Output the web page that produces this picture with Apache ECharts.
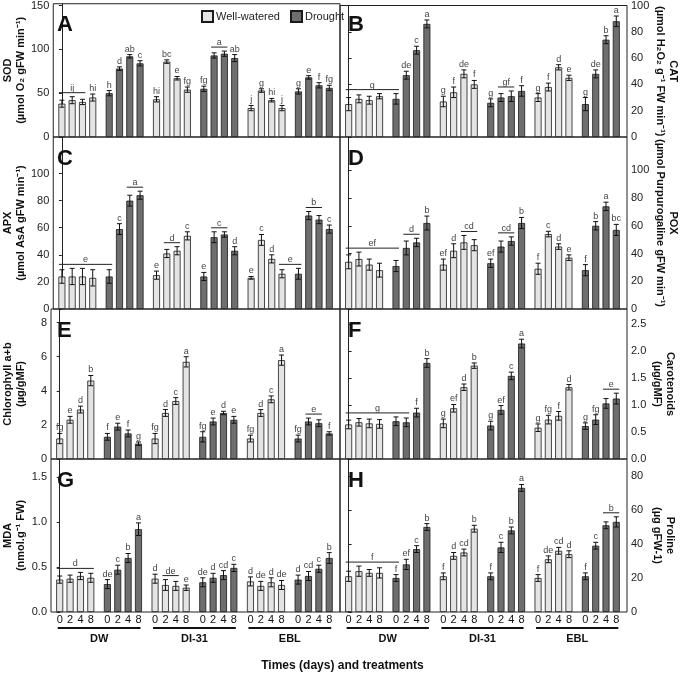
<!DOCTYPE html>
<html>
<head>
<meta charset="utf-8">
<script src="https://cdn.jsdelivr.net/npm/echarts@6/dist/echarts.min.js"></script>
<style>
  html, body { margin: 0; padding: 0; background: #fff; }
  #main { width: 685px; height: 677px; }
</style>
</head>
<body>
<div id="main"></div>
<script>
// bar order: WW-DW, Drought-DW, WW-DI31, Drought-DI31, WW-EBL, Drought-EBL (days 0,2,4,8 each)
const days = ['0', '2', '4', '8'];
const treatments = ['DW', 'DI-31', 'EBL'];

const sodValues = [38, 42, 40, 45, 50, 78, 92, 84, 43, 86, 67, 54, 55, 93, 95, 90, 33, 53, 42, 33, 52, 68, 59, 56];
const sodErr = [4, 4, 3, 4, 3, 2, 2, 3, 3, 2, 2, 3, 3, 3, 3, 4, 3, 2, 2, 3, 3, 2, 3, 3];
const sodLetters = ['', '', '', 'hi', 'h', 'd', 'ab', 'c', 'hi', 'bc', 'e', 'fg', 'fg', '', '', 'ab', 'j', 'g', 'hi', 'j', 'g', 'e', 'f', 'fg'];
const sodSpans = [[0, 2, 'ij'], [13, 14, 'a']];
const sodTicks = [0, 50, 100, 150];

const catValues = [25, 29, 28, 31, 29, 47, 66, 86, 27, 34, 48, 40, 26, 30, 31, 35, 30, 38, 53, 45, 25, 48, 74, 88];
const catErr = [5, 3, 3, 2, 4, 3, 3, 3, 4, 4, 3, 3, 3, 3, 4, 4, 3, 3, 2, 2, 5, 3, 3, 4];
const catLetters = ['', '', '', '', '', 'de', 'c', 'a', 'g', 'f', 'de', 'f', 'g', '', '', 'f', 'g', 'f', 'd', 'e', 'g', 'de', 'b', 'a'];
const catSpans = [[0, 4, 'g'], [13, 14, 'gf']];
const catTicks = [0, 20, 40, 60, 80, 100];

const apxValues = [24, 24, 24, 23, 24, 59, 80, 84, 25, 41, 43, 54, 24, 53, 55, 43, 23, 51, 37, 26, 26, 69, 66, 59];
const apxErr = [5, 6, 6, 6, 5, 4, 4, 3, 3, 3, 3, 3, 3, 4, 2, 3, 1, 4, 3, 3, 4, 3, 3, 3];
const apxLetters = ['', '', '', '', '', 'c', '', '', 'e', '', '', 'c', 'e', '', '', 'd', 'e', 'c', 'd', '', '', '', '', 'c'];
const apxSpans = [[0, 4, 'e'], [6, 7, 'a'], [9, 10, 'd'], [13, 14, 'c'], [19, 20, 'e'], [21, 22, 'b']];
const apxTicks = [0, 20, 40, 60, 80, 100];

const poxValues = [34, 36, 32, 28, 31, 44, 48, 62, 32, 42, 48, 46, 33, 45, 49, 62, 29, 54, 45, 37, 28, 60, 74, 57];
const poxErr = [5, 5, 4, 5, 4, 5, 3, 5, 4, 5, 5, 4, 3, 4, 3, 4, 4, 2, 2, 2, 4, 3, 3, 4];
const poxLetters = ['', '', '', '', '', '', '', 'b', 'ef', 'd', '', '', 'ef', '', '', 'b', 'f', 'c', 'd', 'e', 'f', 'b', 'a', 'bc'];
const poxSpans = [[0, 4, 'ef'], [5, 6, 'd'], [10, 11, 'cd'], [13, 14, 'cd']];
const poxTicks = [0, 20, 40, 60, 80, 100];

const chlValues = [1.2, 2.3, 2.9, 4.6, 1.3, 1.9, 1.5, 0.9, 1.2, 2.7, 3.4, 5.7, 1.3, 2.2, 2.7, 2.3, 1.2, 2.7, 3.5, 5.8, 1.2, 2.2, 2.1, 1.5];
const chlErr = [0.3, 0.2, 0.2, 0.3, 0.2, 0.2, 0.2, 0.1, 0.3, 0.2, 0.2, 0.3, 0.3, 0.2, 0.1, 0.2, 0.2, 0.2, 0.2, 0.3, 0.2, 0.2, 0.2, 0.1];
const chlLetters = ['fg', 'e', 'd', 'b', 'f', 'e', 'f', 'g', 'fg', 'd', 'c', 'a', 'fg', 'e', 'd', 'e', 'fg', 'd', 'c', 'a', 'fg', '', '', 'f'];
const chlSpans = [[21, 22, 'e']];
const chlTicks = [0, 2, 4, 6, 8];

const carValues = [0.64, 0.68, 0.66, 0.65, 0.70, 0.68, 0.86, 1.78, 0.66, 0.94, 1.33, 1.73, 0.62, 0.91, 1.54, 2.14, 0.58, 0.73, 0.80, 1.33, 0.61, 0.73, 1.03, 1.12];
const carErr = [0.08, 0.07, 0.08, 0.08, 0.08, 0.08, 0.08, 0.08, 0.08, 0.07, 0.06, 0.05, 0.08, 0.08, 0.07, 0.08, 0.07, 0.08, 0.08, 0.05, 0.06, 0.09, 0.09, 0.1];
const carLetters = ['', '', '', '', '', '', 'f', 'b', 'g', 'ef', 'd', 'b', 'g', 'ef', 'c', 'a', 'g', 'fg', 'f', 'd', 'g', 'fg', '', ''];
const carSpans = [[0, 5, 'g'], [22, 23, 'e']];
const carTicks = [0, 0.5, 1, 1.5, 2, 2.5];

const mdaValues = [0.36, 0.37, 0.40, 0.38, 0.31, 0.47, 0.60, 0.92, 0.37, 0.30, 0.29, 0.27, 0.33, 0.38, 0.41, 0.49, 0.34, 0.29, 0.33, 0.30, 0.36, 0.40, 0.48, 0.60];
const mdaErr = [0.04, 0.04, 0.04, 0.05, 0.05, 0.05, 0.05, 0.07, 0.05, 0.06, 0.05, 0.03, 0.05, 0.05, 0.05, 0.04, 0.05, 0.05, 0.05, 0.05, 0.05, 0.05, 0.04, 0.06];
const mdaLetters = ['', '', '', '', 'de', 'c', 'b', 'a', 'd', '', '', 'e', 'de', 'd', 'cd', 'c', 'd', 'de', 'd', 'de', 'd', 'cd', 'c', 'b'];
const mdaSpans = [[0, 3, 'd'], [9, 10, 'de']];
const mdaTicks = [0, 0.5, 1, 1.5];

const proValues = [21, 24, 23, 23, 20, 28, 37, 50, 21, 33, 35, 49, 21, 38, 48, 73, 20, 31, 36, 34, 21, 39, 51, 53];
const proErr = [3, 3, 2, 3, 2, 3, 2, 2, 2, 2, 2, 2, 2, 3, 2, 2, 2, 2, 2, 2, 2, 2, 2, 3];
const proLetters = ['', '', '', '', 'f', 'ef', 'c', 'b', 'f', 'd', 'cd', 'b', 'f', 'c', 'b', 'a', 'f', 'de', 'cd', 'd', 'f', 'c', '', ''];
const proSpans = [[0, 4, 'f'], [22, 23, 'b']];
const proTicks = [0, 20, 40, 60, 80];

// layout
const FONT = 'Liberation Sans, Arial, sans-serif';
const rows = [[3, 137], [137, 309], [309, 459], [459, 612]];
const cols = [[49, 291], [340, 287]];
const LIGHT = '#e4e4e4';
const DARK = '#6e6e6e';
const xPos = [];
for (let k = 0; k < 24; k++) xPos.push(Math.floor(k / 4) * 23 + (k % 4) * 5);

const panels = [
  { tag: 'A', row: 0, col: 0, v: sodValues, e: sodErr, l: sodLetters, s: sodSpans, ticks: sodTicks, max: 152, dec: 0,
    name: 'SOD\n(µmol O₂ gFW min⁻¹)' },
  { tag: 'B', row: 0, col: 1, v: catValues, e: catErr, l: catLetters, s: catSpans, ticks: catTicks, max: 100, dec: 0,
    name: 'CAT\n(µmol H₂O₂ g⁻¹ FW min⁻¹)' },
  { tag: 'C', row: 1, col: 0, v: apxValues, e: apxErr, l: apxLetters, s: apxSpans, ticks: apxTicks, max: 127, dec: 0,
    name: 'APX\n(µmol AsA gFW min⁻¹)' },
  { tag: 'D', row: 1, col: 1, v: poxValues, e: poxErr, l: poxLetters, s: poxSpans, ticks: poxTicks, max: 124, dec: 0,
    name: 'POX\n(µmol Purpurogaline gFW min⁻¹)' },
  { tag: 'E', row: 2, col: 0, v: chlValues, e: chlErr, l: chlLetters, s: chlSpans, ticks: chlTicks, max: 8.8, dec: 0,
    name: 'Chlorophyll a+b\n(µg/gMF)' },
  { tag: 'F', row: 2, col: 1, v: carValues, e: carErr, l: carLetters, s: carSpans, ticks: carTicks, max: 2.78, dec: 1,
    name: 'Carotenoids\n(µg/gMF)' },
  { tag: 'G', row: 3, col: 0, v: mdaValues, e: mdaErr, l: mdaLetters, s: mdaSpans, ticks: mdaTicks, max: 1.7, dec: 1,
    name: 'MDA\n(nmol.g⁻¹ FW)' },
  { tag: 'H', row: 3, col: 1, v: proValues, e: proErr, l: proLetters, s: proSpans, ticks: proTicks, max: 90, dec: 0,
    name: 'Proline\n(µg gFW-1)' }
];

const grid = [], xAxis = [], yAxis = [], series = [], title = [];

function renderErr(params, api) {
  const x = api.value(0), v = api.value(1), e = api.value(2);
  const lo = api.coord([x, v - e]), hi = api.coord([x, v + e]);
  const c = 2.5, st = { stroke: '#111', lineWidth: 1 };
  return { type: 'group', children: [
    { type: 'line', shape: { x1: lo[0], y1: lo[1], x2: hi[0], y2: hi[1] }, style: st },
    { type: 'line', shape: { x1: lo[0] - c, y1: lo[1], x2: lo[0] + c, y2: lo[1] }, style: st },
    { type: 'line', shape: { x1: hi[0] - c, y1: hi[1], x2: hi[0] + c, y2: hi[1] }, style: st }
  ] };
}

panels.forEach((p, i) => {
  const [top, bottom] = rows[p.row];
  const [left, width] = cols[p.col];
  grid.push({ left: left, top: top, width: width, height: bottom - top, show: true,
    borderColor: '#222', borderWidth: 1, containLabel: false });
  xAxis.push({ type: 'value', gridIndex: i, min: -4.2, max: 135.2,
    axisLine: { show: false }, axisTick: { show: false }, axisLabel: { show: false }, splitLine: { show: false } });
  const isLeft = p.col === 0;
  yAxis.push({
    type: 'value', gridIndex: i, min: 0, max: p.max, position: isLeft ? 'left' : 'right',
    axisLine: { show: true, lineStyle: { color: '#222', width: 1 } },
    axisTick: { show: true, length: 3, customValues: p.ticks, lineStyle: { color: '#222' } },
    axisLabel: { customValues: p.ticks, fontFamily: FONT, fontSize: 11, color: '#222', margin: 4,
      formatter: v => v.toFixed(p.dec) },
    splitLine: { show: false },
    name: p.name, nameLocation: 'middle', nameGap: 24, nameRotate: isLeft ? 90 : -90,
    nameTextStyle: { fontFamily: FONT, fontSize: 11, fontWeight: 'bold', color: '#111', lineHeight: 13 }
  });
  title.push({ text: p.tag, left: left + 8, top: top + 11, padding: 0,
    textStyle: { fontFamily: FONT, fontSize: 22, fontWeight: 'bold', color: '#111' } });

  const ww = [], dr = [], errs = [];
  for (let k = 0; k < 24; k++) {
    const item = [xPos[k], p.v[k]];
    if (Math.floor(k / 4) % 2 === 0) ww.push(item); else dr.push(item);
    errs.push([xPos[k], p.v[k], p.e[k]]);
  }
  const barStyle = c => ({ color: c, borderColor: '#1a1a1a', borderWidth: 0.8 });
  series.push({ name: 'Well-watered', type: 'bar', xAxisIndex: i, yAxisIndex: i, data: ww,
    barWidth: 7, barGap: '-100%', itemStyle: barStyle(LIGHT), silent: true });
  series.push({ name: 'Drought', type: 'bar', xAxisIndex: i, yAxisIndex: i, data: dr,
    barWidth: 7, barGap: '-100%', itemStyle: barStyle(DARK), silent: true });
  series.push({ type: 'custom', xAxisIndex: i, yAxisIndex: i, data: errs, renderItem: renderErr,
    encode: { x: 0, y: 1 }, z: 5, silent: true });

  // significance letters, single and spanning
  const marks = [];
  p.l.forEach((t, k) => { if (t) marks.push([k, k, t]); });
  p.s.forEach(s => marks.push(s));
  const markData = marks.map(m => {
    let topV = 0;
    for (let k = m[0]; k <= m[1]; k++) topV = Math.max(topV, p.v[k] + p.e[k]);
    return [xPos[m[0]], topV, xPos[m[1]]];
  });
  series.push({
    type: 'custom', xAxisIndex: i, yAxisIndex: i, data: markData, encode: { x: 0, y: 1 }, z: 6, silent: true, clip: false,
    renderItem: (params, api) => {
      const m = marks[params.dataIndex];
      const a = api.coord([api.value(0), api.value(1)]);
      const b = api.coord([api.value(2), api.value(1)]);
      const txtStyle = y => ({ text: m[2], x: (a[0] + b[0]) / 2, y: y, textAlign: 'center', textVerticalAlign: 'bottom',
        font: '9px ' + FONT, fill: '#444' });
      if (m[0] === m[1]) return { type: 'text', style: txtStyle(a[1] - 1) };
      return { type: 'group', children: [
        { type: 'line', shape: { x1: a[0] - 3, y1: a[1] - 4, x2: b[0] + 3, y2: a[1] - 4 }, style: { stroke: '#222', lineWidth: 1 } },
        { type: 'text', style: txtStyle(a[1] - 4) }
      ] };
    }
  });

  // day ticks and treatment bars under the bottom row
  if (p.row === 3) {
    series.push({
      type: 'custom', xAxisIndex: i, yAxisIndex: i, data: xPos.map(x => [x, 0]), encode: { x: 0, y: 1 }, clip: false, silent: true,
      renderItem: (params, api) => {
        const c = api.coord([api.value(0), 0]);
        return { type: 'text', style: { text: days[params.dataIndex % 4], x: c[0], y: c[1] + 2,
          textAlign: 'center', textVerticalAlign: 'top', font: '11px ' + FONT, fill: '#111' } };
      }
    });
    series.push({
      type: 'custom', xAxisIndex: i, yAxisIndex: i, data: treatments.map((t, ti) => [xPos[ti * 8], 0, xPos[ti * 8 + 7]]),
      encode: { x: 0, y: 1 }, clip: false, silent: true,
      renderItem: (params, api) => {
        const a = api.coord([api.value(0), 0]);
        const b = api.coord([api.value(2), 0]);
        return { type: 'group', children: [
          { type: 'line', shape: { x1: a[0] - 2, y1: a[1] + 16, x2: b[0] + 2, y2: a[1] + 16 }, style: { stroke: '#111', lineWidth: 2 } },
          { type: 'text', style: { text: treatments[params.dataIndex], x: (a[0] + b[0]) / 2, y: a[1] + 21,
            textAlign: 'center', textVerticalAlign: 'top', font: 'bold 11px ' + FONT, fill: '#111' } }
        ] };
      }
    });
  }
});

const chart = echarts.init(document.getElementById('main'), null, { renderer: 'canvas' });
chart.setOption({
  animation: false,
  backgroundColor: '#fff',
  title: title,
  legend: {
    data: ['Well-watered', 'Drought'], left: 196, top: 5, itemWidth: 11, itemHeight: 11, itemGap: 10,
    icon: 'rect', selectedMode: false,
    textStyle: { fontFamily: FONT, fontSize: 11, color: '#222', padding: [0, 0, 0, -2] }
  },
  grid: grid,
  xAxis: xAxis,
  yAxis: yAxis,
  series: series,
  graphic: [{
    type: 'text', left: 'center', top: 660,
    style: { text: 'Times (days) and treatments', font: 'bold 12px ' + FONT, fill: '#111' }
  }]
});
</script>
</body>
</html>
